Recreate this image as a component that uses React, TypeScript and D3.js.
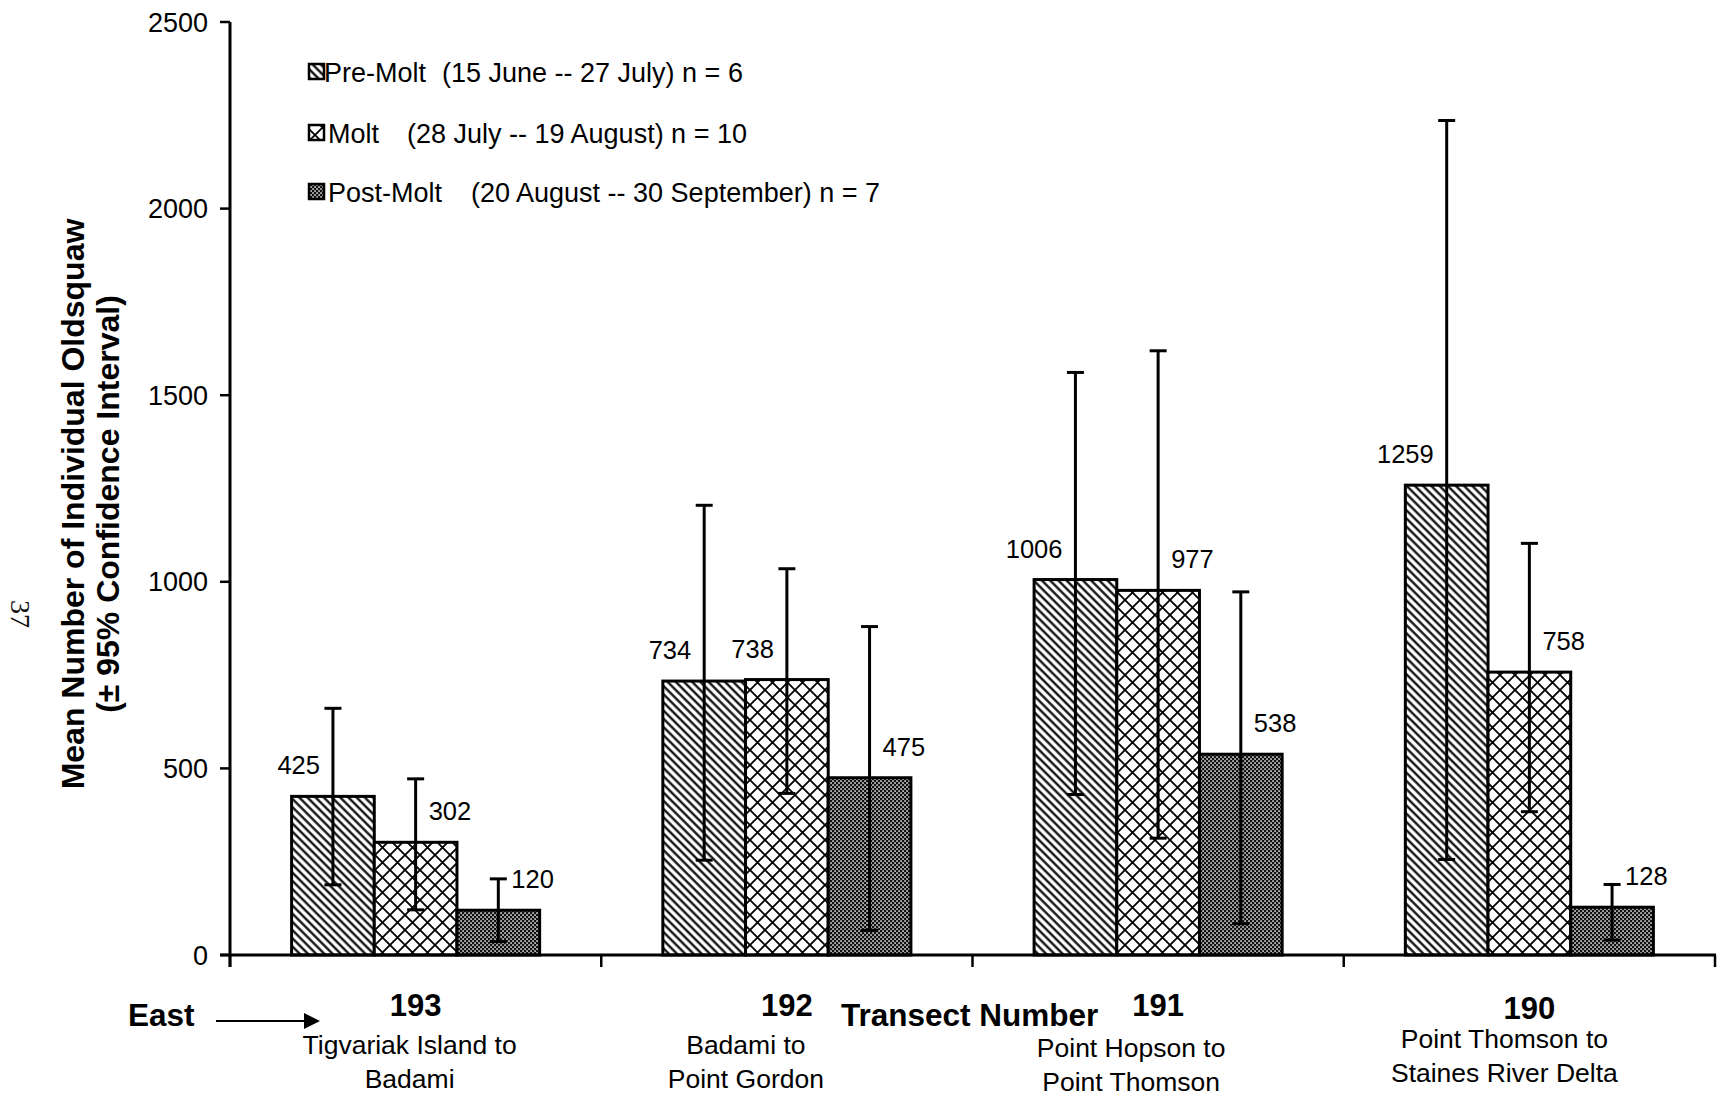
import React from 'react';
import * as d3 from 'd3';

// ---------- data ----------
const categories = ['193', '192', '191', '190'];
const categoryLine1 = ['Tigvariak Island to', 'Badami to', 'Point Hopson to', 'Point Thomson to'];
const categoryLine2 = ['Badami', 'Point Gordon', 'Point Thomson', 'Staines River Delta'];

const seriesKeys = ['pre', 'molt', 'post'];
const seriesNames = ['Pre-Molt', 'Molt', 'Post-Molt'];
const seriesPeriods = [
  '(15 June -- 27 July) n = 6',
  '(28 July -- 19 August) n = 10',
  '(20 August -- 30 September) n = 7',
];

const preMolt = [425, 734, 1006, 1259];
const molt = [302, 738, 977, 758];
const postMolt = [120, 475, 538, 128];

const preMoltLow = [188, 254, 430, 256];
const preMoltHigh = [661, 1205, 1561, 2236];
const moltLow = [121, 433, 313, 384];
const moltHigh = [472, 1035, 1619, 1103];
const postMoltLow = [36, 66, 84, 40];
const postMoltHigh = [204, 880, 973, 189];

const yTicks = [0, 500, 1000, 1500, 2000, 2500];

const values = [preMolt, molt, postMolt];
const lows = [preMoltLow, moltLow, postMoltLow];
const highs = [preMoltHigh, moltHigh, postMoltHigh];

// label placement (style): -1 = left of error bar, 1 = right
const LABEL_SIDE = [
  [-1, -1, -1, -1],
  [1, -1, 1, 1],
  [1, 1, 1, 1],
];
const SUB_DX = [-6, -41, -27, -25];
const SUB_DY = [0, 0, 3, -6];

const FONT = "'Liberation Sans', Arial, Helvetica, sans-serif";

export default function App() {
  const W = 1718;
  const H = 1096;
  const y = d3.scaleLinear().domain([0, 2500]).range([955, 22]);
  const x0 = d3.scaleBand<string>().domain(categories).range([230, 1715]).padding(0);
  const x1 = d3
    .scaleBand<string>()
    .domain(seriesKeys)
    .range([0, x0.bandwidth()])
    .paddingInner(0)
    .paddingOuter(0.745);
  const fills = ['url(#pPre)', 'url(#pMolt)', 'url(#pPost)'];
  const baseY = y(0);
  const boundaries = [...categories.map((c) => x0(c) as number), 1715];

  return (
    <svg
      width={W}
      height={H}
      style={{ position: 'absolute', left: 0, top: 0, background: '#fff' }}
      fontFamily={FONT}
    >
      <defs>
        <pattern id="pPre" patternUnits="userSpaceOnUse" width="5.8" height="10" patternTransform="rotate(-45)">
          <rect width="5.8" height="10" fill="#fff" />
          <line x1="1.5" y1="0" x2="1.5" y2="10" stroke="#000" strokeWidth="2.2" />
        </pattern>
        <pattern id="pMolt" patternUnits="userSpaceOnUse" width="15" height="15">
          <rect width="15" height="15" fill="#fff" />
          <path d="M0,0 L15,15 M15,0 L0,15 M-1,14 L1,16 M14,-1 L16,1 M-1,1 L1,-1 M14,16 L16,14" stroke="#000" strokeWidth="1.8" />
        </pattern>
        <pattern id="pPost" patternUnits="userSpaceOnUse" width="4" height="4">
          <rect width="4" height="4" fill="#111" />
          <rect x="0.3" y="0.3" width="1.5" height="1.5" fill="#fff" />
          <rect x="2.3" y="2.3" width="1.5" height="1.5" fill="#fff" />
        </pattern>
      </defs>

      {/* page number */}
      <text
        transform="translate(11,600) rotate(90)"
        fontFamily="'Liberation Serif', 'DejaVu Serif', serif"
        fontSize={28}
        fill="#111"
      >
        37
      </text>

      {/* y axis title */}
      <text
        transform="translate(84,504) rotate(-90)"
        textAnchor="middle"
        fontWeight="bold"
        fontSize={32}
      >
        Mean Number of Individual Oldsquaw
      </text>
      <text
        transform="translate(119,504) rotate(-90)"
        textAnchor="middle"
        fontWeight="bold"
        fontSize={32}
      >
        (± 95% Confidence Interval)
      </text>

      {/* bars */}
      {seriesKeys.map((s, si) =>
        categories.map((c, ci) => {
          const bx = (x0(c) as number) + (x1(s) as number);
          const v = values[si][ci];
          return (
            <rect
              key={s + c}
              x={bx}
              y={y(v)}
              width={x1.bandwidth()}
              height={baseY - y(v)}
              fill={fills[si]}
              stroke="#000"
              strokeWidth={3}
            />
          );
        })
      )}

      {/* error bars */}
      {seriesKeys.map((s, si) =>
        categories.map((c, ci) => {
          const cx = (x0(c) as number) + (x1(s) as number) + x1.bandwidth() / 2;
          const lo = y(lows[si][ci]);
          const hi = y(highs[si][ci]);
          return (
            <g key={'e' + s + c} stroke="#000" strokeWidth={3}>
              <line x1={cx} x2={cx} y1={lo} y2={hi} />
              <line x1={cx - 8.5} x2={cx + 8.5} y1={hi} y2={hi} />
              <line x1={cx - 8.5} x2={cx + 8.5} y1={lo} y2={lo} />
            </g>
          );
        })
      )}

      {/* value labels */}
      {seriesKeys.map((s, si) =>
        categories.map((c, ci) => {
          const cx = (x0(c) as number) + (x1(s) as number) + x1.bandwidth() / 2;
          const v = values[si][ci];
          const side = LABEL_SIDE[si][ci];
          return (
            <text
              key={'l' + s + c}
              x={cx + side * 13}
              y={y(v) - 22}
              textAnchor={side < 0 ? 'end' : 'start'}
              fontSize={25.5}
            >
              {v}
            </text>
          );
        })
      )}

      {/* y axis */}
      <line x1={230} x2={230} y1={22} y2={967} stroke="#000" strokeWidth={3} />
      {yTicks.map((t) => (
        <g key={'yt' + t}>
          <line x1={220} x2={230} y1={y(t)} y2={y(t)} stroke="#000" strokeWidth={2.5} />
          <text x={208} y={y(t) + 9.5} textAnchor="end" fontSize={27}>
            {t}
          </text>
        </g>
      ))}

      {/* x axis */}
      <line x1={220} x2={1716} y1={baseY} y2={baseY} stroke="#000" strokeWidth={3} />
      {boundaries.map((bx, i) => (
        <line key={'xt' + i} x1={bx} x2={bx} y1={baseY} y2={baseY + 12} stroke="#000" strokeWidth={2.5} />
      ))}

      {/* category labels */}
      {categories.map((c, ci) => {
        const cx = (x0(c) as number) + x0.bandwidth() / 2;
        return (
          <g key={'cl' + c}>
            <text x={cx} y={1016 + (ci === 3 ? 3 : 0)} textAnchor="middle" fontWeight="bold" fontSize={31}>
              {c}
            </text>
            <text x={cx + SUB_DX[ci]} y={1054 + SUB_DY[ci]} textAnchor="middle" fontSize={26.5}>
              {categoryLine1[ci]}
            </text>
            <text x={cx + SUB_DX[ci]} y={1088 + SUB_DY[ci]} textAnchor="middle" fontSize={26.5}>
              {categoryLine2[ci]}
            </text>
          </g>
        );
      })}

      {/* East arrow and axis title */}
      <text x={128} y={1026} fontWeight="bold" fontSize={31.5}>
        East
      </text>
      <line x1={216} x2={306} y1={1021} y2={1021} stroke="#000" strokeWidth={2} />
      <path d="M304,1013 L320,1021 L304,1029 Z" fill="#000" />
      <text x={841} y={1026} fontWeight="bold" fontSize={31.5}>
        Transect Number
      </text>

      {/* legend */}
      {seriesKeys.map((s, si) => {
        const cy = [72, 133, 192][si];
        const px = [442, 407, 471][si];
        return (
          <g key={'lg' + s}>
            <rect x={309} y={cy - 8} width={15} height={15} fill={fills[si]} stroke="#000" strokeWidth={2.5} />
            <text x={si === 0 ? 324 : 328} y={cy + 9.5} fontSize={27}>
              {seriesNames[si]}
            </text>
            <text x={px} y={cy + 9.5} fontSize={27}>
              {seriesPeriods[si]}
            </text>
          </g>
        );
      })}
    </svg>
  );
}
